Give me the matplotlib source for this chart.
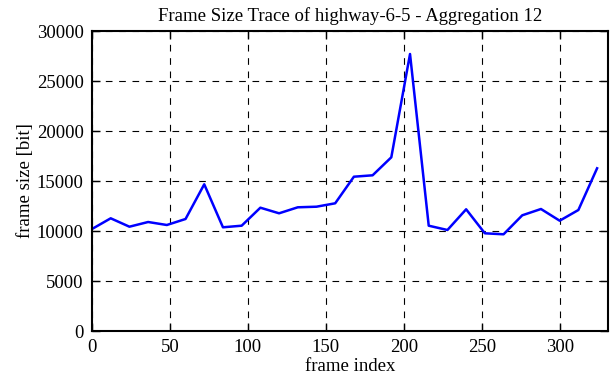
import matplotlib
matplotlib.use("Agg")
import matplotlib.pyplot as plt

frame_index = [0, 12, 24, 36, 48, 60, 72, 84, 96, 108, 120, 132, 144, 156,
               168, 180, 192, 204, 216, 228, 240, 252, 264, 276, 288, 300, 312, 324]
frame_size = [10200, 11270, 10430, 10900, 10600, 11200, 14670, 10370, 10530, 12330,
              11770, 12370, 12430, 12770, 15430, 15570, 17370, 27700, 10530, 10100,
              12170, 9770, 9670, 11570, 12200, 11030, 12100, 16270]
x_ticks = [0, 50, 100, 150, 200, 250, 300]
y_ticks = [0, 5000, 10000, 15000, 20000, 25000, 30000]

plt.rcParams['font.family'] = ['Liberation Serif', 'DejaVu Serif']
plt.rcParams['font.size'] = 13.5

fig = plt.figure(figsize=(6.12, 3.82), dpi=100)
ax = fig.add_axes([92/612, 1-331/382, (608-92)/612, (331-31)/382])
ax.plot(frame_index, frame_size, color='#0000ff', lw=1.8)
ax.set_xlim(0, 331)
ax.set_ylim(0, 30000)
ax.set_xticks(x_ticks)
ax.set_yticks(y_ticks)
ax.grid(True, color='black', linestyle=(0, (6, 6)), linewidth=0.8)
ax.tick_params(direction='in', top=True, right=True, length=6, width=1, pad=6)
for s in ax.spines.values():
    s.set_linewidth(1.5)
ax.set_xlabel('frame index', labelpad=1)
ax.set_ylabel('frame size [bit]', labelpad=2)
ax.set_title('Frame Size Trace of highway-6-5 - Aggregation 12', fontsize=13.5, pad=7)
fig.savefig('out.png', dpi=100)
